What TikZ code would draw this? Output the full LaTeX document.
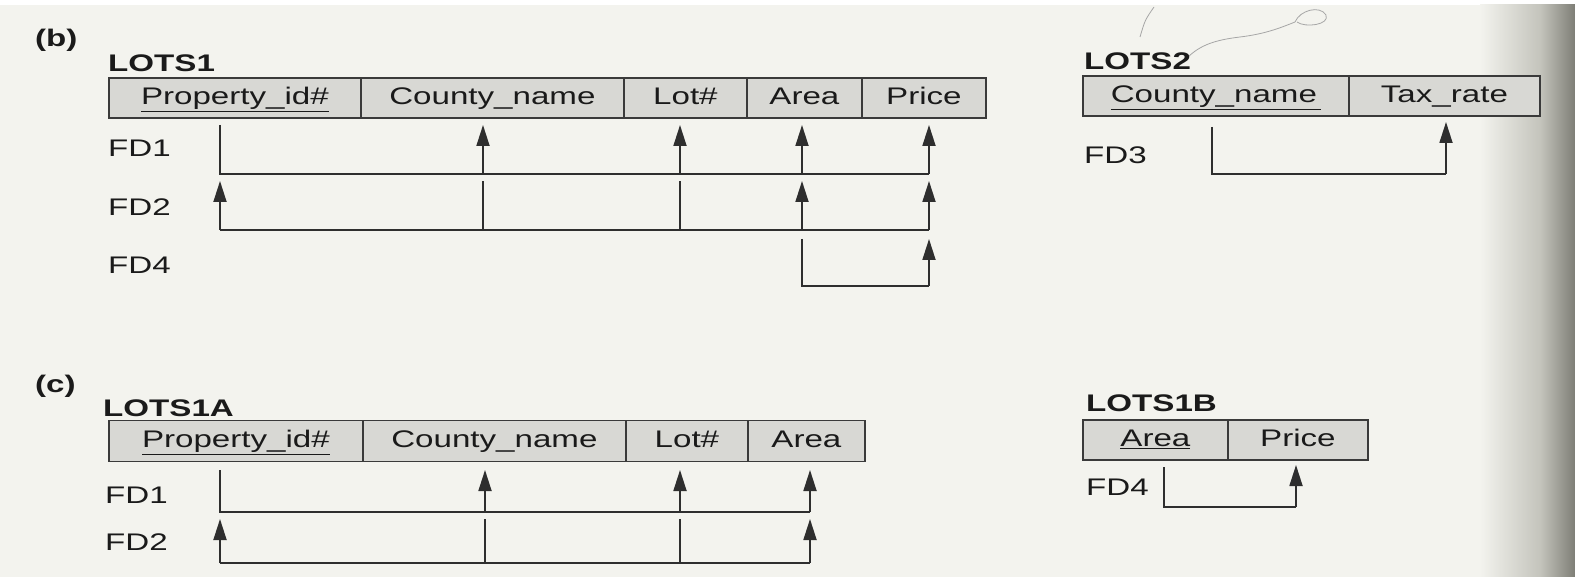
\documentclass[tikz,border=0pt]{standalone}
\usepackage{fontspec}
\setmainfont{Liberation Sans}[FakeStretch=1.38]
\usetikzlibrary{arrows.meta,calc}
\definecolor{bgc}{HTML}{F3F3EE}
\definecolor{cellgray}{HTML}{D8D8D4}
\definecolor{tabline}{HTML}{3A3A3A}
\definecolor{fdcol}{HTML}{2E2E2E}
\definecolor{txt}{HTML}{1A1A1A}
\definecolor{shadowa}{HTML}{C4C4BC}
\definecolor{shadowb}{HTML}{7E7E76}
\newcommand{\cellfont}{\fontsize{24}{28}\selectfont}
\begin{document}
\begin{tikzpicture}[x=1pt,y=-1pt,
  every node/.style={inner sep=0pt, text=txt},
  cell/.style={draw=tabline, line width=1.8pt, fill=cellgray, minimum height=40pt, text height=18pt, text depth=5pt, anchor=west, font=\cellfont},
  lbl/.style={anchor=west, font=\cellfont},
  tname/.style={anchor=west, font=\cellfont\bfseries},
  fdline/.style={draw=fdcol, line width=1.8pt},
  fdarrow/.style={fdline, -{Triangle[length=21pt,width=13pt]}},
  scrib/.style={draw=black!35, line width=0.8pt}]
\useasboundingbox (0,0) rectangle (1575,577);
% paper
\fill[bgc] (0,0) rectangle (1575,577);
\fill[white] (0,0) rectangle (1575,5);
\shade[left color=bgc, right color=shadowa] (1480,5) rectangle (1540,577);
\shade[left color=shadowa, right color=shadowb] (1540,5) rectangle (1575,577);
% scribble
\draw[scrib] (1187,58) .. controls (1200,45) and (1215,40) .. (1240,37) .. controls (1265,34) and (1280,28) .. (1295,22) .. controls (1300,10) and (1320,5) .. (1326,15) .. controls (1330,25) and (1305,28) .. (1297,22);
\draw[scrib] (1154,7) .. controls (1145,20) .. (1140,37);

% ---------------- (b)
\node[tname] (lb) at (35,40) {(b)};
\node[tname] (n1) at (108,63) {LOTS1};
\node[cell, minimum width=252pt] (l1c1) at (108,98) {\underline{Property\_id\#}};
\node[cell, minimum width=263pt] (l1c2) at (360,98) {County\_name};
\node[cell, minimum width=123pt] (l1c3) at (623,98) {Lot\#};
\node[cell, minimum width=115pt] (l1c4) at (746,98) {Area};
\node[cell, minimum width=124pt] (l1c5) at (861,98) {Price};
\node[lbl] (f1) at (108,148) {FD1};
\node[lbl] (f2) at (108,207) {FD2};
\node[lbl] (f4) at (108,265) {FD4};

\coordinate (bP) at (220,125);
\coordinate (bC) at (483,125);
\coordinate (bL) at (680,125);
\coordinate (bA) at (802,125);
\coordinate (bR) at (929,125);
\coordinate (bFD1) at (0,174);
\coordinate (bFD2top) at (0,181);
\coordinate (bFD2) at (0,230);
\coordinate (bFD4top) at (0,239);
\coordinate (bFD4) at (0,286);
% FD1
\draw[fdline] (bP) |- (bR |- bFD1);
\foreach \c in {bC,bL,bA,bR} \draw[fdarrow] (\c |- bFD1) -- (\c);
% FD2
\draw[fdline] (bP |- bFD2) -- (bR |- bFD2);
\foreach \c in {bP,bA,bR} \draw[fdarrow] (\c |- bFD2) -- (\c |- bFD2top);
\foreach \c in {bC,bL} \draw[fdline] (\c |- bFD2) -- (\c |- bFD2top);
% FD4
\draw[fdline] (bA |- bFD4top) |- (bR |- bFD4);
\draw[fdarrow] (bR |- bFD4) -- (bR |- bFD4top);

% LOTS2
\node[tname] (n2) at (1084,61) {LOTS2};
\node[cell, minimum width=266pt] (l2c1) at (1082,96) {\underline{County\_name\,}};
\node[cell, minimum width=191pt] (l2c2) at (1348,96) {Tax\_rate};
\node[lbl] (f3) at (1084,155) {FD3};
\coordinate (cC) at (1212,127);
\coordinate (cT) at (1446,122);
\coordinate (cFD3) at (0,174);
\draw[fdline] (cC) |- (cT |- cFD3);
\draw[fdarrow] (cT |- cFD3) -- (cT);

% ---------------- (c)
\node[tname] (lc) at (35,386) {(c)};
\node[tname] (n3) at (103,408) {LOTS1A};
\node[cell, minimum width=254pt, minimum height=41pt] (l3c1) at (108,441) {\underline{Property\_id\#}};
\node[cell, minimum width=263pt, minimum height=41pt] (l3c2) at (362,441) {County\_name};
\node[cell, minimum width=122pt, minimum height=41pt] (l3c3) at (625,441) {Lot\#};
\node[cell, minimum width=117pt, minimum height=41pt] (l3c4) at (747,441) {Area};
\node[lbl] (g1) at (105,495) {FD1};
\node[lbl] (g2) at (105,542) {FD2};

\coordinate (dP) at (220,470);
\coordinate (dC) at (485,470);
\coordinate (dL) at (680,470);
\coordinate (dA) at (810,470);
\coordinate (dFD1) at (0,512);
\coordinate (dFD2top) at (0,519);
\coordinate (dFD2) at (0,563);
\draw[fdline] (dP) |- (dA |- dFD1);
\foreach \c in {dC,dL,dA} \draw[fdarrow] (\c |- dFD1) -- (\c);
\draw[fdline] (dP |- dFD2) -- (dA |- dFD2);
\foreach \c in {dP,dA} \draw[fdarrow] (\c |- dFD2) -- (\c |- dFD2top);
\foreach \c in {dC,dL} \draw[fdline] (\c |- dFD2) -- (\c |- dFD2top);

% LOTS1B
\node[tname] (n4) at (1086,403) {LOTS1B};
\node[cell, minimum width=145pt] (l4c1) at (1082,440) {\underline{Area}};
\node[cell, minimum width=140pt] (l4c2) at (1227,440) {Price};
\node[lbl] (g4) at (1086,487) {FD4};
\coordinate (eA) at (1164,467);
\coordinate (eR) at (1296,465);
\coordinate (eFD4) at (0,507);
\draw[fdline] (eA) |- (eR |- eFD4);
\draw[fdarrow] (eR |- eFD4) -- (eR);
\end{tikzpicture}
\end{document}
